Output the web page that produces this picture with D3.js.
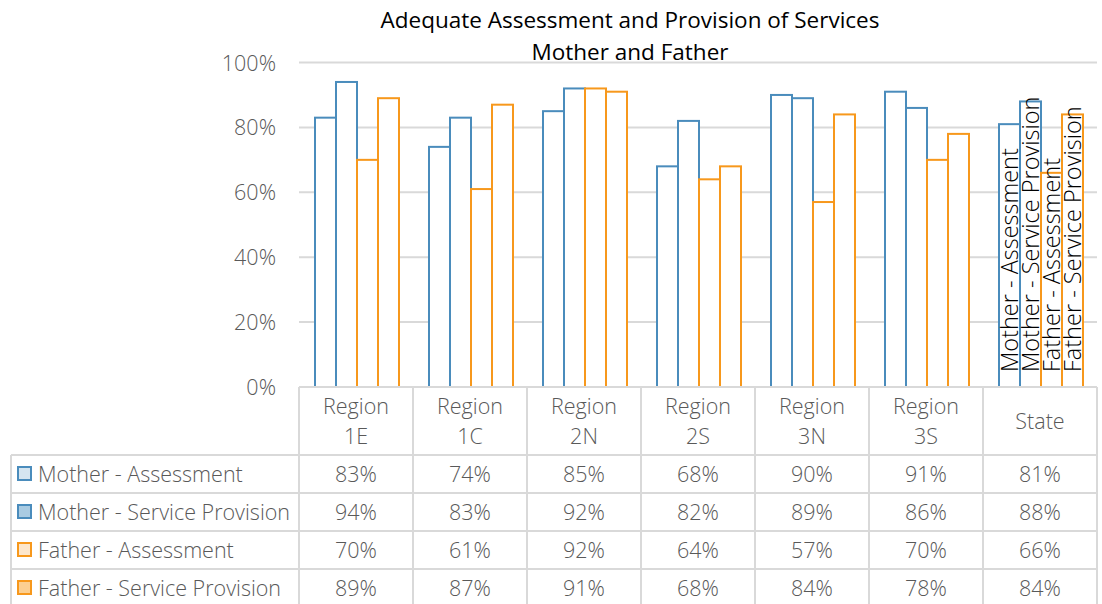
<!DOCTYPE html>
<html><head><meta charset="utf-8">
<script src="https://cdn.jsdelivr.net/npm/d3@7"></script>
<style>
html,body{margin:0;padding:0;background:#fff;}
svg{display:block;}
</style></head>
<body>
<svg id="chart" width="1102" height="604"></svg>
<script>
const titleLines = ["Adequate Assessment and Provision of Services", "Mother and Father"];
const categories = ["Region 1E", "Region 1C", "Region 2N", "Region 2S", "Region 3N", "Region 3S", "State"];
const seriesNames = ["Mother - Assessment", "Mother - Service Provision", "Father - Assessment", "Father - Service Provision"];
const motherAssessment = [83, 74, 85, 68, 90, 91, 81];
const motherService = [94, 83, 92, 82, 89, 86, 88];
const fatherAssessment = [70, 61, 92, 64, 57, 70, 66];
const fatherService = [89, 87, 91, 68, 84, 78, 84];
const yTicks = [0, 20, 40, 60, 80, 100];

const seriesValues = [motherAssessment, motherService, fatherAssessment, fatherService];
const strokeColors = ["#4a8cbc", "#4a8cbc", "#f7981c", "#f7981c"];
const keyFills = ["#d5e5f0", "#a9cbe2", "#fde7cc", "#fccf91"];
const textGray = "#595959";
const gridColor = "#d9d9d9";
const font = "'Open Sans', 'Noto Sans', sans-serif";
const bodySize = "21.5px";
const bodyWeight = 300;

const svg = d3.select("#chart");
const plotTop = 62.5, plotBottom = 387, plotLeft = 299, plotRight = 1097;

const y = d3.scaleLinear().domain([0, 100]).range([plotBottom, plotTop]);
const x = d3.scaleBand().domain(categories).range([plotLeft, plotRight]).padding(0);
const xs = d3.scaleBand().domain(seriesNames).range([15, x.bandwidth() - 15]).padding(0);

// Title
svg.append("g").selectAll("text").data(titleLines).join("text")
  .attr("x", 630).attr("y", (d, i) => 28 + i * 32)
  .attr("text-anchor", "middle")
  .style("font-family", font).style("font-size", "22.5px").style("fill", "#000")
  .text(d => d);

// Gridlines
svg.append("g").selectAll("line").data(yTicks.filter(t => t > 0)).join("line")
  .attr("x1", plotLeft).attr("x2", plotRight)
  .attr("y1", d => y(d)).attr("y2", d => y(d))
  .attr("stroke", gridColor).attr("stroke-width", 2);

// Y axis labels
const yAxis = d3.axisLeft(y).tickValues(yTicks).tickFormat(d => d + "%").tickSize(0).tickPadding(0);
const yg = svg.append("g").attr("transform", `translate(276,0)`).call(yAxis);
yg.select(".domain").remove();
yg.selectAll("text").style("font-family", font).style("font-size", bodySize).style("font-weight", bodyWeight)
  .style("fill", textGray).attr("dy", "0.35em");

// Bars
const series = seriesNames.map((name, si) => ({name, si, values: seriesValues[si]}));
const groups = svg.append("g").selectAll("g").data(series).join("g");
groups.selectAll("rect").data(s => s.values.map((v, ci) => ({v, ci, s}))).join("rect")
  .attr("x", d => x(categories[d.ci]) + xs(d.s.name) + 1)
  .attr("y", d => y(d.v))
  .attr("width", xs.bandwidth())
  .attr("height", d => y(0) - y(d.v))
  .attr("fill", "#fff")
  .attr("stroke", d => strokeColors[d.s.si])
  .attr("stroke-width", 2);

// Data labels (series names) on State bars
const stateIdx = categories.length - 1;
svg.append("g").selectAll("text").data(series).join("text")
  .attr("transform", d => `translate(${x(categories[stateIdx]) + xs(d.name) + xs.bandwidth() / 2 + 1},${plotBottom - 15}) rotate(-90)`)
  .attr("dy", "0.35em")
  .style("font-family", font).style("font-size", "23.5px").style("font-weight", bodyWeight).style("fill", "#000")
  .text(d => d.name);

// Data table
const tbl = svg.append("g");
const headerTop = 387, headerBottom = 455, rowH = 38, tableLeft = 11;
const rowTops = seriesNames.map((_, i) => headerBottom + i * rowH);
const lineStyle = sel => sel.attr("stroke", gridColor).attr("stroke-width", 2);

tbl.append("line").attr("x1", plotLeft).attr("x2", plotRight).attr("y1", headerTop).attr("y2", headerTop).call(lineStyle);
tbl.selectAll("line.h").data(rowTops).join("line").attr("class", "h")
  .attr("x1", tableLeft).attr("x2", plotRight).attr("y1", d => d).attr("y2", d => d).call(lineStyle);
const colEdges = categories.map(c => x(c)).concat([plotRight]);
tbl.selectAll("line.v").data(colEdges).join("line").attr("class", "v")
  .attr("x1", d => d).attr("x2", d => d).attr("y1", headerTop).attr("y2", 610).call(lineStyle);
tbl.append("line").attr("x1", tableLeft).attr("x2", tableLeft).attr("y1", headerBottom).attr("y2", 610).call(lineStyle);

const hdr = tbl.selectAll("text.hdr").data(categories).join("text").attr("class", "hdr")
  .attr("text-anchor", "middle")
  .style("font-family", font).style("font-size", bodySize).style("font-weight", bodyWeight).style("fill", textGray);
hdr.each(function(c) {
  const parts = c.split(" ");
  const t = d3.select(this);
  const cx = x(c) + x.bandwidth() / 2;
  if (parts.length === 2 && parts[0] === "Region") {
    t.append("tspan").attr("x", cx).attr("y", 414).text(parts[0]);
    t.append("tspan").attr("x", cx).attr("y", 444).text(parts[1]);
  } else {
    t.append("tspan").attr("x", cx).attr("y", 429).text(c);
  }
});

series.forEach((s, i) => {
  const cy = rowTops[i] + rowH / 2;
  tbl.append("rect").attr("x", 18).attr("y", cy - 7).attr("width", 13).attr("height", 13)
    .attr("fill", keyFills[i]).attr("stroke", strokeColors[i]).attr("stroke-width", 2);
  tbl.append("text").attr("x", 38).attr("y", cy).attr("dy", "0.35em")
    .style("font-family", font).style("font-size", bodySize).style("font-weight", bodyWeight).style("fill", textGray)
    .text(s.name);
  tbl.selectAll(null).data(s.values).join("text")
    .attr("x", (d, ci) => x(categories[ci]) + x.bandwidth() / 2)
    .attr("y", cy).attr("dy", "0.35em").attr("text-anchor", "middle")
    .style("font-family", font).style("font-size", bodySize).style("font-weight", bodyWeight).style("fill", textGray)
    .text(d => d + "%");
});
</script>
</body></html>
